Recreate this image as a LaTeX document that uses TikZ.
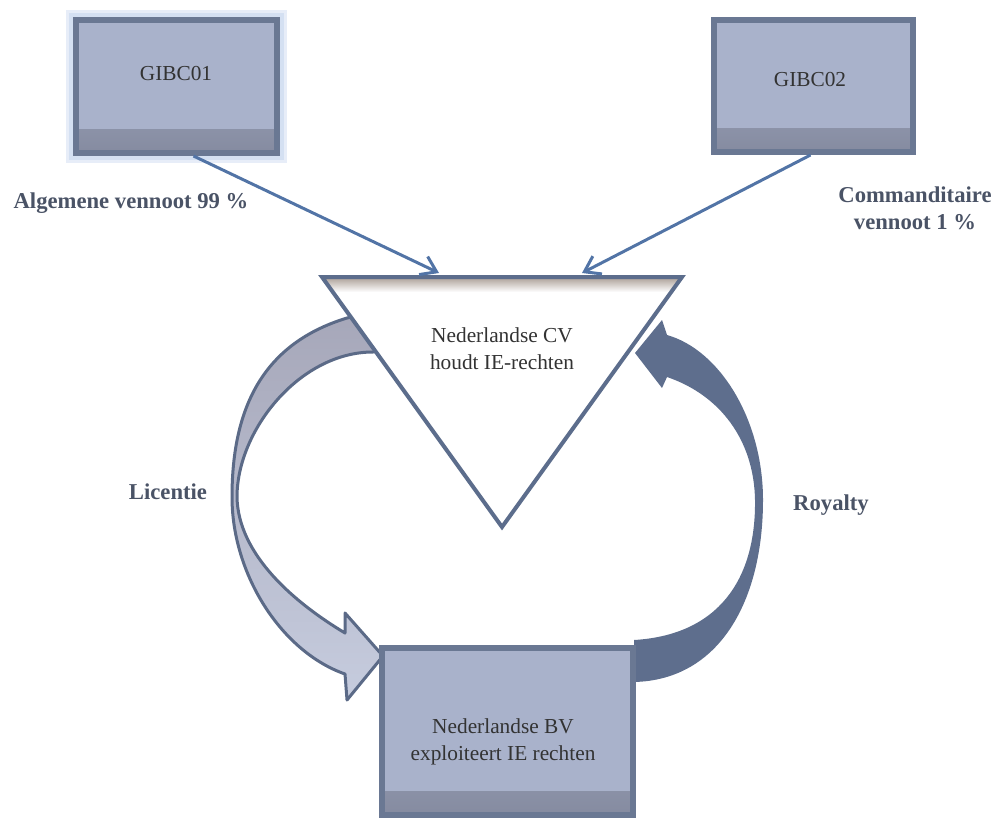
\documentclass[tikz,border=0pt]{standalone}
\usepackage{fontspec}
\setmainfont{Liberation Serif}
\usetikzlibrary{arrows.meta,calc}
\definecolor{boxfill}{HTML}{A9B2CB}
\definecolor{boxborder}{HTML}{6A7893}
\definecolor{boxshadow}{HTML}{858BA0}
\definecolor{glowc}{HTML}{C9D8EF}
\definecolor{triborder}{HTML}{5C6D8C}
\definecolor{trishadow}{HTML}{B5AAA3}
\definecolor{linkc}{HTML}{5274A6}
\definecolor{lictop}{HTML}{A6A7B9}
\definecolor{licmid}{HTML}{B4B8CB}
\definecolor{licbot}{HTML}{C6CCDE}
\definecolor{licborder}{HTML}{5B6A87}
\definecolor{royc}{HTML}{5E6E8D}
\definecolor{labelc}{HTML}{4A5366}
\definecolor{textc}{HTML}{333333}
\begin{document}
\begin{tikzpicture}[x=0.75pt,y=-0.75pt,
  boxnode/.style={rectangle, draw=boxborder, line width=4.5pt, fill=boxfill, inner sep=0pt,
    path picture={\shade[top color=boxfill, bottom color=boxshadow]
      ([yshift=18pt]path picture bounding box.south west) rectangle (path picture bounding box.south east);}},
  txt/.style={text=textc, font=\fontsize{16}{20}\selectfont, align=center, inner sep=0pt},
  lbl/.style={text=labelc, font=\fontsize{17}{20}\selectfont\bfseries, align=center, inner sep=0pt},
  link/.style={draw=linkc, line width=2.25pt, -{Straight Barb[length=11pt,width=15pt,line width=2.25pt]}},
  tri/.style={draw=triborder, line width=3pt, line join=miter}
]
\useasboundingbox (0,0) rectangle (994,821);

% top boxes
\node[boxnode, minimum width=150.75pt, minimum height=99.75pt,
  preaction={draw=glowc!45, line width=15pt, rounded corners=4pt},
  preaction={draw=glowc!80, line width=10pt}] (gibc1) at (176.5,86.5) {};
\node[boxnode, minimum width=149.25pt, minimum height=99pt] (gibc2) at (813.5,86) {};
\node[txt] (t1) at (176,74) {GIBC01};
\node[txt] (t2) at (810,80) {GIBC02};

% Licentie arrow
\draw[licborder, line width=2.25pt, line join=round, top color=lictop, middle color=licmid, bottom color=licbot]
  (372,312) -- (347,318) .. controls (265,343) and (232,405) .. (232,497)
  .. controls (232,575) and (282,652) .. (345,674)
  -- (347,700) -- (383,656) -- (345,613) -- (345,633)
  .. controls (295,603) and (238,555) .. (237,497)
  .. controls (237,430) and (300,352) .. (373,352) -- (395,350) -- cycle;

% Royalty arrow
\fill[royc]
  (634,682) .. controls (720,680) and (763,600) .. (763,500)
  .. controls (763,420) and (720,350) .. (667,335)
  -- (662,320) -- (635,353) -- (662,388) -- (667,377)
  .. controls (720,395) and (754,440) .. (755,500)
  .. controls (756,580) and (718,635) .. (634,640) -- cycle;

% triangle
\coordinate (tA) at (322,277);
\coordinate (tB) at (682,277);
\coordinate (tC) at (502,527);
\fill[white] (tA) -- (tB) -- (tC) -- cycle;
\shade[top color=trishadow, bottom color=white] (325,279) -- (679,279) -- (672,292) -- (332,292) -- cycle;
\draw[tri] (tA) -- (tB) -- (tC) -- cycle;
\node[txt] (cv) at (502,349) {Nederlandse CV\\houdt IE-rechten};

% bottom box
\node[boxnode, minimum width=188.25pt, minimum height=125.25pt] (bv) at (507.5,731.5) {};
\node[txt] (bvt) at (503,742) {Nederlandse BV\\exploiteert IE rechten};

% connectors
\coordinate (cvL) at (439,273);
\coordinate (cvR) at (582,273);
\draw[link] ($(gibc1.south)+(17,0)$) -- (cvL);
\draw[link] ($(gibc2.south)+(-3,0)$) -- (cvR);

% labels
\node[lbl] (l1) at (131,203) {Algemene vennoot 99 \%};
\node[lbl] (l2) at (915,208) {Commanditaire\\vennoot 1 \%};
\node[lbl] (l3) at (168,492) {Licentie};
\node[lbl] (l4) at (831,505) {Royalty};
\end{tikzpicture}
\end{document}
